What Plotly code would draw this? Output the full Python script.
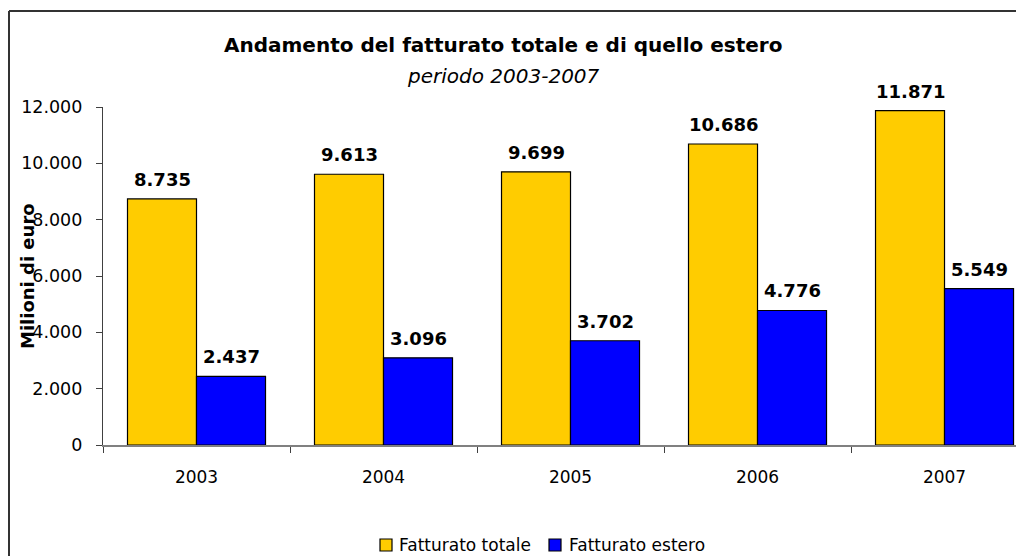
import plotly.graph_objects as go

years = ["2003", "2004", "2005", "2006", "2007"]
fatturato_totale = [8735, 9613, 9699, 10686, 11871]
fatturato_estero = [2437, 3096, 3702, 4776, 5549]
y_ticks = [0, 2000, 4000, 6000, 8000, 10000, 12000]
series_names = ["Fatturato totale", "Fatturato estero"]
series_colors = ["#FFCC00", "#0000FF"]

FONT = "DejaVu Sans"
W_FIG, H_FIG = 1016, 548
L, T, B, R = 95, 99, 111, 0
PW = W_FIG - L - R
PH = H_FIG - T - B
BARGAP = 0.262
half = (1 - BARGAP) / 4  # offset of each bar centre from category centre


def px(fx):
    return (fx - L) / PW


def py(fy):
    return (H_FIG - B - fy) / PH


fig = go.Figure()
for name, vals, col in zip(series_names, [fatturato_totale, fatturato_estero], series_colors):
    fig.add_trace(go.Bar(
        x=years, y=vals, name=name, showlegend=False,
        marker=dict(color=col, line=dict(color="black", width=1.2)),
    ))

# value labels
for k, vals in enumerate([fatturato_totale, fatturato_estero]):
    off = -half if k == 0 else half
    for i, v in enumerate(vals):
        fig.add_annotation(x=i + off, y=v, xref="x", yref="y",
                           text="<b>" + f"{v:,d}".replace(",", ".") + "</b>",
                           showarrow=False, xanchor="center", yanchor="bottom", yshift=7,
                           font=dict(family=FONT, size=18, color="black"))

fig.update_layout(
    width=W_FIG, height=H_FIG,
    margin=dict(l=L, r=R, t=T, b=B),
    paper_bgcolor="white", plot_bgcolor="white",
    separators=",.",
    barmode="group", bargap=BARGAP, bargroupgap=0,
    font=dict(family=FONT, size=17, color="black"),
    showlegend=False,
    xaxis=dict(range=[-0.5, 4.425], showline=True, linecolor="#808080", linewidth=1.5,
               ticks="outside", tickson="boundaries", ticklen=6, tickcolor="#404040",
               ticklabelstandoff=16, showgrid=False, zeroline=False,
               tickfont=dict(family=FONT, size=17)),
    yaxis=dict(range=[0, 12000], tickvals=y_ticks, tickformat=",d", showline=True,
               linecolor="#404040", linewidth=1.2, ticks="outside", ticklen=6,
               tickcolor="#404040", showgrid=False, zeroline=False,
               ticklabelstandoff=10, tickfont=dict(family=FONT, size=17.5)),
)

fig.add_annotation(text="<b>Andamento del fatturato totale e di quello estero</b>",
                   xref="paper", yref="paper", x=px(495), y=py(37), showarrow=False,
                   xanchor="center", yanchor="middle",
                   font=dict(family=FONT, size=20, color="black"))
fig.add_annotation(text="<i>periodo 2003-2007</i>",
                   xref="paper", yref="paper", x=px(495), y=py(68), showarrow=False,
                   xanchor="center", yanchor="middle",
                   font=dict(family=FONT, size=20, color="black"))
fig.add_annotation(text="<b>Milioni di euro</b>", textangle=-90,
                   xref="paper", yref="paper", x=px(19), y=0.5, showarrow=False,
                   xanchor="center", yanchor="middle",
                   font=dict(family=FONT, size=18, color="black"))

# legend (drawn manually so it does not push the margins)
leg_sq_x = [372, 541]
leg_txt_x = [389, 559]
LEG_Y = 537
for name, col, sx, tx in zip(series_names, series_colors, leg_sq_x, leg_txt_x):
    fig.add_shape(type="rect", xref="paper", yref="paper",
                  x0=px(sx), x1=px(sx + 12), y0=py(LEG_Y - 6), y1=py(LEG_Y + 6),
                  fillcolor=col, line=dict(color="black", width=1.2))
    fig.add_annotation(text=name, xref="paper", yref="paper", x=px(tx), y=py(LEG_Y),
                       showarrow=False, xanchor="left", yanchor="middle",
                       font=dict(family=FONT, size=17, color="black"))

# outer chart border (cropped at right and bottom)
fig.add_shape(type="line", xref="paper", yref="paper", x0=px(1), x1=px(1),
              y0=py(3), y1=py(600), line=dict(color="#333333", width=2))
fig.add_shape(type="line", xref="paper", yref="paper", x0=px(1), x1=px(1100),
              y0=py(3), y1=py(3), line=dict(color="#333333", width=2))

fig.write_html("out.html")
